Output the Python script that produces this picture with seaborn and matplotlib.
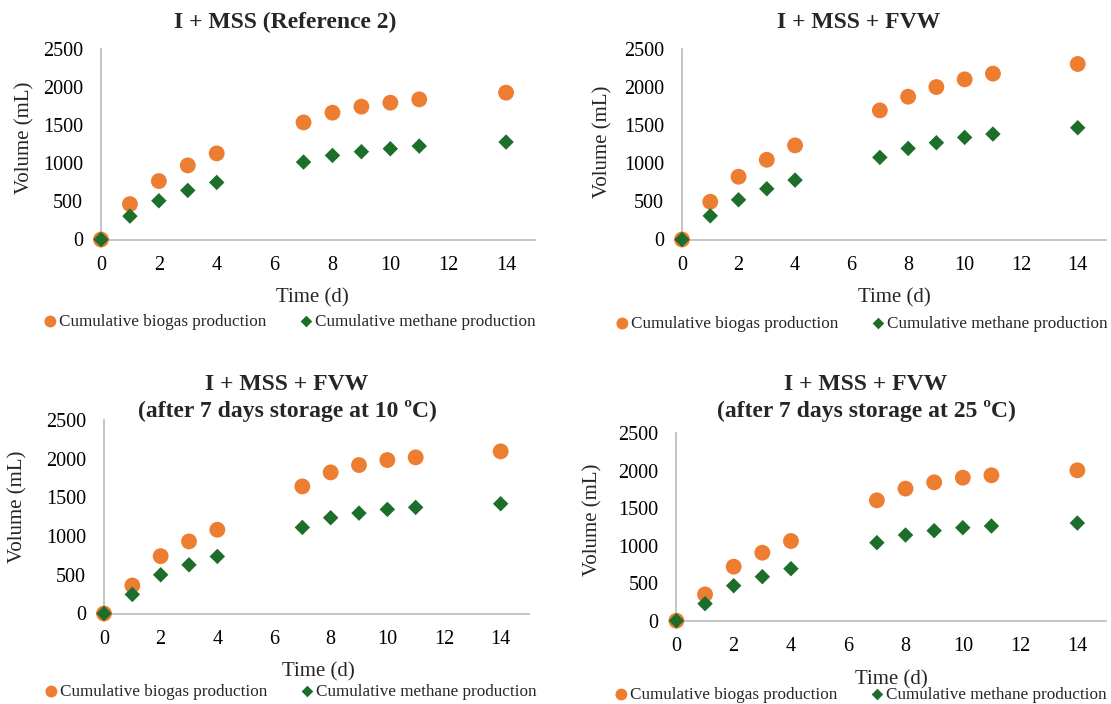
import matplotlib
matplotlib.use("Agg")
import matplotlib.pyplot as plt
import pandas as pd
import seaborn as sns

# Sampling days of the batch test
days = [0, 1, 2, 3, 4, 7, 8, 9, 10, 11, 14]

# Cumulative volumes (mL) for each digester mixture
biogas_ref = [0, 465, 768, 974, 1132, 1539, 1667, 1746, 1798, 1842, 1930]
methane_ref = [0, 307, 509, 645, 750, 1018, 1105, 1154, 1193, 1228, 1281]

biogas_fvw = [0, 496, 825, 1048, 1237, 1697, 1877, 2004, 2105, 2180, 2307]
methane_fvw = [0, 311, 522, 667, 781, 1079, 1197, 1272, 1342, 1386, 1469]

biogas_10c = [0, 362, 741, 931, 1082, 1642, 1823, 1918, 1983, 2017, 2095]
methane_10c = [0, 246, 500, 629, 737, 1112, 1237, 1297, 1345, 1371, 1418]

biogas_25c = [0, 351, 721, 907, 1063, 1606, 1762, 1846, 1908, 1940, 2006]
methane_25c = [0, 227, 467, 587, 694, 1041, 1143, 1201, 1241, 1263, 1303]

titles = [
    "I + MSS (Reference 2)",
    "I + MSS + FVW",
    "I + MSS + FVW\n(after 7 days storage at 10 \u00baC)",
    "I + MSS + FVW\n(after 7 days storage at 25 \u00baC)",
]
series_names = ["Cumulative biogas production", "Cumulative methane production"]
x_label = "Time (d)"
y_label = "Volume (mL)"
x_ticks = [0, 2, 4, 6, 8, 10, 12, 14]
y_ticks = [0, 500, 1000, 1500, 2000, 2500]

sns.set_style("white")
plt.rcParams["font.family"] = ["Liberation Serif", "DejaVu Serif"]

ORANGE = "#ED7D31"
GREEN = "#1C6E2A"
SPINE = "#BFBFBF"

W, H = 1111, 704
fig = plt.figure(figsize=(W / 100, H / 100), dpi=100)


def px_axes(left, top, right, bottom):
    return fig.add_axes([left / W, 1 - bottom / H, (right - left) / W, (bottom - top) / H])


panels = [
    dict(box=(101, 49.3, 535, 239.5), bio=biogas_ref, met=methane_ref,
         title_xy=(285, 22), xl=(0.486, -0.308), yl=(-0.175, 0.534), leg=(290, 322)),
    dict(box=(682, 49.3, 1106, 239.5), bio=biogas_fvw, met=methane_fvw,
         title_xy=(859, 22), xl=(0.502, -0.308), yl=(-0.186, 0.514), leg=(862, 324)),
    dict(box=(104, 420, 529, 613.5), bio=biogas_10c, met=methane_10c,
         title_xy=(287, 398), xl=(0.505, -0.301), yl=(-0.203, 0.552), leg=(291, 692)),
    dict(box=(676.4, 433.3, 1106, 620.7), bio=biogas_25c, met=methane_25c,
         title_xy=(866, 398), xl=(0.501, -0.316), yl=(-0.195, 0.537), leg=(861, 695)),
]

for p, title in zip(panels, titles):
    ax = px_axes(*p["box"])
    df = pd.DataFrame({"day": days, "biogas": p["bio"], "methane": p["met"]})
    sns.scatterplot(data=df, x="day", y="biogas", ax=ax, marker="o", s=130,
                    color=ORANGE, edgecolor="none", linewidth=0,
                    label=series_names[0], clip_on=False, zorder=3)
    sns.scatterplot(data=df, x="day", y="methane", ax=ax, marker="D", s=62,
                    color=GREEN, edgecolor="none", linewidth=0,
                    label=series_names[1], clip_on=False, zorder=4)

    ax.set_xlim(0, 15)
    ax.set_ylim(0, 2500)
    ax.set_xticks(x_ticks)
    ax.set_yticks(y_ticks)
    ax.tick_params(axis="both", length=0, labelsize=14.5, colors="#000000")
    ax.tick_params(axis="y", pad=13)
    ax.tick_params(axis="x", pad=12)
    for side in ("top", "right"):
        ax.spines[side].set_visible(False)
    for side in ("left", "bottom"):
        ax.spines[side].set_color(SPINE)
        ax.spines[side].set_linewidth(1.3)
    ax.grid(False)

    ax.set_xlabel(x_label, fontsize=15)
    ax.set_ylabel(y_label, fontsize=15)
    ax.xaxis.label.set_va("center")
    ax.yaxis.label.set_va("center")
    ax.xaxis.set_label_coords(*p["xl"])
    ax.yaxis.set_label_coords(*p["yl"])

    tx, ty = p["title_xy"]
    fig.text(tx / W, 1 - ty / H, title, ha="center", va="center",
             fontsize=17, fontweight="bold", linespacing=1.25)

    lx, ly = p["leg"]
    ax.legend(loc="center", bbox_to_anchor=(lx / W, 1 - ly / H),
              bbox_transform=fig.transFigure, ncol=2, frameon=False,
              fontsize=12.3, markerscale=0.75, handlelength=0.7,
              handletextpad=0.15, columnspacing=2.0, borderpad=0,
              borderaxespad=0)

fig.savefig("out.png", dpi=100, facecolor="white")
